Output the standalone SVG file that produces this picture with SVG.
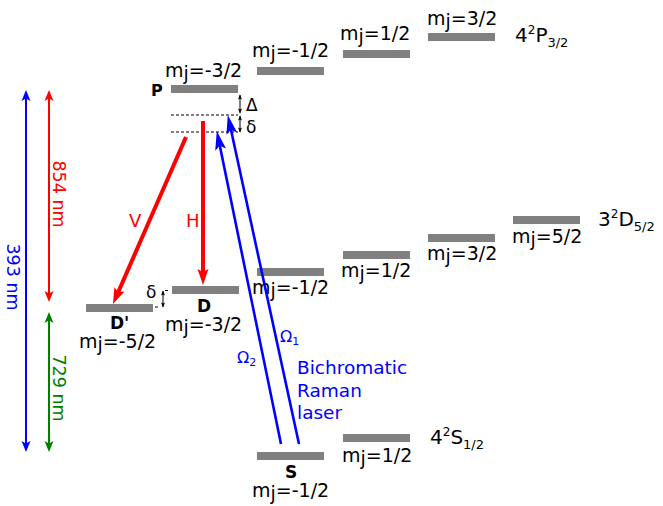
<svg xmlns="http://www.w3.org/2000/svg" width="663" height="506" viewBox="0 0 663 506">
<style>
text{font-family:"DejaVu Sans","Verdana",sans-serif;}
.bar{fill:#808080;}
.mj{font-size:19px;fill:#000;}
.lbl{font-size:17px;font-weight:bold;fill:#000;}
.term{font-size:20px;fill:#000;}
.sm{font-size:12px;}
.dash{stroke:#000;stroke-width:1;stroke-dasharray:3,2;fill:none;}
.red{stroke:#ff0000;stroke-width:4;fill:none;}
.blue{stroke:#0000ff;stroke-width:2.6;fill:none;}
.thin{stroke-width:2;fill:none;}
</style>
<defs>
<marker id="hr" markerUnits="userSpaceOnUse" markerWidth="20" markerHeight="14" viewBox="0 -7 18 14" refX="8" refY="0" orient="auto"><path d="M0,-5.5 L16,0 L0,5.5 L3,0 z" fill="#ff0000"/></marker>
<marker id="hb" markerUnits="userSpaceOnUse" markerWidth="22" markerHeight="14" viewBox="0 -7 20 14" refX="9" refY="0" orient="auto"><path d="M0,-5.5 L19,0 L0,5.5 L4,0 z" fill="#0000ff"/></marker>
<marker id="dblue" markerUnits="userSpaceOnUse" markerWidth="14" markerHeight="12" viewBox="0 -6 12 12" refX="6" refY="0" orient="auto-start-reverse"><path d="M0,-4.5 L11,0 L0,4.5 L2.5,0 z" fill="#0000ff"/></marker>
<marker id="dred" markerUnits="userSpaceOnUse" markerWidth="14" markerHeight="12" viewBox="0 -6 12 12" refX="6" refY="0" orient="auto-start-reverse"><path d="M0,-4.5 L11,0 L0,4.5 L2.5,0 z" fill="#ff0000"/></marker>
<marker id="dgreen" markerUnits="userSpaceOnUse" markerWidth="14" markerHeight="12" viewBox="0 -6 12 12" refX="6" refY="0" orient="auto-start-reverse"><path d="M0,-4.5 L11,0 L0,4.5 L2.5,0 z" fill="#008000"/></marker>
<marker id="dk" markerUnits="userSpaceOnUse" markerWidth="8" markerHeight="6" viewBox="0 -3 6 6" refX="4.5" refY="0" orient="auto-start-reverse"><path d="M0,-2 L5,0 L0,2 L1,0 z" fill="#000"/></marker>
</defs>

<!-- 4P3/2 manifold -->
<g id="P_m-3_2"><rect class="bar" x="171" y="85" width="67" height="8"/><text class="mj" x="165" y="77">m<tspan dy="3">j</tspan><tspan dy="-3">=-3/2</tspan></text><text class="lbl" x="151" y="96" style="font-size:16px">P</text></g>
<g id="P_m-1_2"><rect class="bar" x="257" y="67" width="67" height="8"/><text class="mj" x="252" y="57">m<tspan dy="3">j</tspan><tspan dy="-3">=-1/2</tspan></text></g>
<g id="P_m1_2"><rect class="bar" x="343" y="50" width="67" height="8"/><text class="mj" x="340" y="40">m<tspan dy="3">j</tspan><tspan dy="-3">=1/2</tspan></text></g>
<g id="P_m3_2"><rect class="bar" x="428" y="33" width="67" height="8"/><text class="mj" x="427" y="25">m<tspan dy="3">j</tspan><tspan dy="-3">=3/2</tspan></text></g>
<g id="term_P"><text class="term" x="515" y="42">4<tspan class="sm" dy="-8">2</tspan><tspan dy="8">P</tspan><tspan class="sm" style="font-size:13px" dy="5">3/2</tspan></text></g>

<!-- 3D5/2 manifold -->
<g id="D_m-5_2"><rect class="bar" x="86" y="304" width="67" height="8"/><text class="lbl" x="110" y="329">D'</text><text class="mj" x="79" y="348">m<tspan dy="3">j</tspan><tspan dy="-3">=-5/2</tspan></text></g>
<g id="D_m-3_2"><rect class="bar" x="172" y="286" width="67" height="8"/><text class="lbl" x="197" y="312">D</text><text class="mj" x="165" y="331">m<tspan dy="3">j</tspan><tspan dy="-3">=-3/2</tspan></text></g>
<g id="D_m-1_2"><rect class="bar" x="257" y="268" width="67" height="8"/><text class="mj" x="252" y="294">m<tspan dy="3">j</tspan><tspan dy="-3">=-1/2</tspan></text></g>
<g id="D_m1_2"><rect class="bar" x="343" y="251" width="67" height="8"/><text class="mj" x="341" y="277">m<tspan dy="3">j</tspan><tspan dy="-3">=1/2</tspan></text></g>
<g id="D_m3_2"><rect class="bar" x="428" y="234" width="67" height="8"/><text class="mj" x="427" y="260">m<tspan dy="3">j</tspan><tspan dy="-3">=3/2</tspan></text></g>
<g id="D_m5_2"><rect class="bar" x="513" y="216" width="67" height="8"/><text class="mj" x="512" y="243">m<tspan dy="3">j</tspan><tspan dy="-3">=5/2</tspan></text></g>
<g id="term_D"><text class="term" x="598" y="226">3<tspan class="sm" dy="-8">2</tspan><tspan dy="8">D</tspan><tspan class="sm" style="font-size:13px" dy="5">5/2</tspan></text></g>

<!-- 4S1/2 manifold -->
<g id="S_m-1_2"><rect class="bar" x="257" y="452" width="67" height="8"/><text class="lbl" x="285" y="478">S</text><text class="mj" x="252" y="497">m<tspan dy="3">j</tspan><tspan dy="-3">=-1/2</tspan></text></g>
<g id="S_m1_2"><rect class="bar" x="343" y="434" width="67" height="8"/><text class="mj" x="342" y="462">m<tspan dy="3">j</tspan><tspan dy="-3">=1/2</tspan></text></g>
<g id="term_S"><text class="term" x="430" y="444">4<tspan class="sm" dy="-8">2</tspan><tspan dy="8">S</tspan><tspan class="sm" style="font-size:13px" dy="5">1/2</tspan></text></g>

<!-- virtual levels and detunings -->
<g id="detuning">
<line class="dash" x1="171" y1="115" x2="238" y2="115"/>
<line class="dash" x1="171" y1="132" x2="238" y2="132"/>
<line x1="240" y1="95" x2="240" y2="113" stroke="#000" stroke-width="1" marker-start="url(#dk)" marker-end="url(#dk)"/>
<line x1="240" y1="116" x2="240" y2="132" stroke="#000" stroke-width="1" marker-start="url(#dk)" marker-end="url(#dk)"/>
<text x="246" y="111" style="font-size:17px">Δ</text>
<text x="246" y="133" style="font-size:17px">δ</text>
<line class="dash" x1="165" y1="290.5" x2="170" y2="290.5"/>
<line class="dash" x1="155" y1="307" x2="159" y2="307"/>
<line x1="163" y1="291" x2="163" y2="307" stroke="#000" stroke-width="1" marker-start="url(#dk)" marker-end="url(#dk)"/>
<text x="146" y="298" style="font-size:17px">δ</text>
</g>

<g id="connectors">
<line class="red" x1="186" y1="137" x2="116.2" y2="296.7" marker-end="url(#hr)"/>
<line class="red" x1="203" y1="121" x2="203" y2="277" marker-end="url(#hr)"/>
<line class="blue" x1="281" y1="444" x2="218.8" y2="140.8" marker-end="url(#hb)"/>
<line class="blue" x1="299" y1="444" x2="229.9" y2="124.8" marker-end="url(#hb)"/>
<line class="thin" stroke="#0000ff" x1="26" y1="95" x2="26" y2="447" marker-start="url(#dblue)" marker-end="url(#dblue)"/>
<line class="thin" stroke="#ff0000" x1="49" y1="95" x2="49" y2="297" marker-start="url(#dred)" marker-end="url(#dred)"/>
<line class="thin" stroke="#008000" x1="49" y1="317" x2="49" y2="447" marker-start="url(#dgreen)" marker-end="url(#dgreen)"/>
</g>

<g id="labels">
<text x="129" y="227" style="font-size:18px;fill:#ff0000">V</text>
<text x="186" y="227" style="font-size:18px;fill:#ff0000">H</text>
<text x="280" y="342" style="font-size:16px;fill:#0000ff">Ω<tspan style="font-size:11px" dy="3">1</tspan></text>
<text x="237" y="363" style="font-size:16px;fill:#0000ff">Ω<tspan style="font-size:11px" dy="3">2</tspan></text>
<text style="font-size:18.5px;fill:#0000ff"><tspan x="297" y="374">Bichromatic</tspan><tspan x="297" y="396.5">Raman</tspan><tspan x="297" y="419">laser</tspan></text>
<text transform="translate(7,277) rotate(90)" text-anchor="middle" style="font-size:17.5px;fill:#0000ff">393 nm</text>
<text transform="translate(53,194) rotate(90)" text-anchor="middle" style="font-size:17.5px;fill:#ff0000">854 nm</text>
<text transform="translate(53,388) rotate(90)" text-anchor="middle" style="font-size:17.5px;fill:#008000">729 nm</text>
</g>
</svg>
